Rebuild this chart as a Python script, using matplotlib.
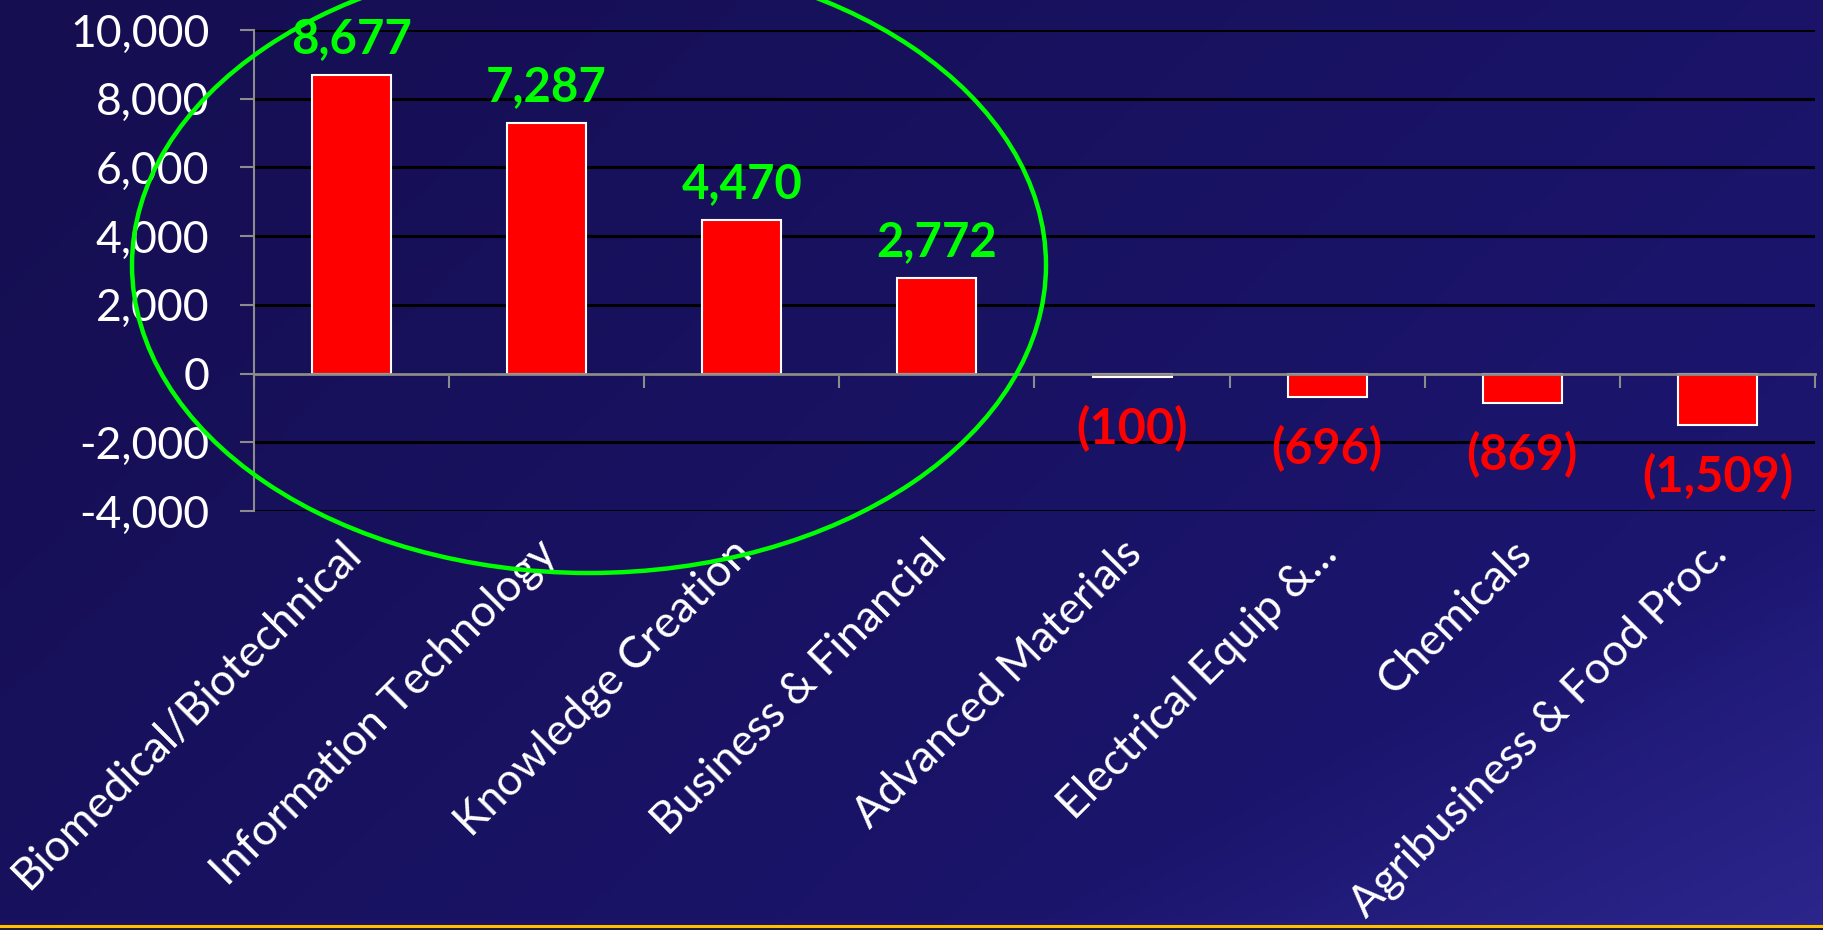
import numpy as np
import matplotlib
matplotlib.use("Agg")
import matplotlib.pyplot as plt
import matplotlib.transforms as mtransforms
from matplotlib.patches import Ellipse, Rectangle
from matplotlib.lines import Line2D
from matplotlib.ticker import FuncFormatter

categories = ["Biomedical/Biotechnical", "Information Technology", "Knowledge Creation",
              "Business & Financial", "Advanced Materials", "Electrical Equip &...",
              "Chemicals", "Agribusiness & Food Proc."]
values = [8677, 7287, 4470, 2772, -100, -696, -869, -1509]
y_ticks = [-4000, -2000, 0, 2000, 4000, 6000, 8000, 10000]

W, H = 1824, 930
plt.rcParams['font.family'] = ['Lato', 'DejaVu Sans']
fig = plt.figure(figsize=(W / 100, H / 100), dpi=100)

# background gradient
bg = fig.add_axes([0, 0, 1, 1], zorder=-10)
yy, xx = np.mgrid[0:1:200j, 0:1:400j]
t = np.clip(0.65 * xx + 0.35 * yy, 0, 1)
c0 = np.array([21, 14, 80]) / 255
c1 = np.array([29, 23, 118]) / 255
img = c0 + (c1 - c0) * t[..., None]
corner = np.clip((xx + yy - 1.55) / 0.45, 0, 1)[..., None]
img = img + (np.array([44, 38, 140]) / 255 - img) * corner
bg.imshow(img, aspect='auto', extent=[0, 1, 0, 1], origin='upper')
bg.set_axis_off()

ax = fig.add_axes([254 / W, 1 - 511 / H, (1815 - 254) / W, (511 - 30) / H])
ax.set_facecolor('none')
x = np.arange(len(categories))
ax.bar(x, values, width=0.405, color='#ff0000', edgecolor='white', linewidth=1.5, zorder=3)
ax.set_xlim(-0.5, len(categories) - 0.5)
ax.set_ylim(-4000, 10000)
ax.set_yticks(y_ticks)
ax.yaxis.set_major_formatter(FuncFormatter(lambda v, p: f"{v:,.0f}"))
ax.yaxis.grid(True, color='black', linewidth=2.2)
ax.set_axisbelow(True)
for s in ['top', 'right']:
    ax.spines[s].set_visible(False)
ax.spines['left'].set_color('#8c8c8c')
ax.spines['left'].set_linewidth(1.5)
ax.spines['bottom'].set_position(('data', 0))
ax.spines['bottom'].set_color('#8c8c8c')
ax.spines['bottom'].set_linewidth(2)
ax.spines['bottom'].set_zorder(4)
ax.set_xticks(np.arange(-0.5, len(categories), 1))
ax.set_xticklabels([])
ax.tick_params(axis='x', direction='out', length=10, width=1.5, color='#8c8c8c')
ax.tick_params(axis='y', direction='out', length=10, width=1.5, color='#8c8c8c',
               labelcolor='white', labelsize=32, pad=22)

for i, v in enumerate(values):
    if v >= 0:
        ax.annotate(f"{v:,}", (i, v), xytext=(0, 16), textcoords='offset points',
                    ha='center', va='baseline', color='#00ff00', fontsize=34,
                    fontweight='bold', zorder=6)
    else:
        ax.annotate(f"({abs(v):,})", (i, v), xytext=(0, -20), textcoords='offset points',
                    ha='center', va='top', color='#ff0000', fontsize=35,
                    fontweight='bold', zorder=6)

trans = mtransforms.blended_transform_factory(ax.transData, ax.transAxes)
for i, c in enumerate(categories):
    tr = mtransforms.offset_copy(trans, fig=fig, x=3, y=-36, units='dots')
    ax.text(i, 0, c, transform=tr, rotation=45, rotation_mode='anchor',
            ha='right', va='center', color='white', fontsize=32, clip_on=False)

fig.add_artist(Ellipse((589 / W, 1 - 265 / H), 914 / W, 616 / H, transform=fig.transFigure,
                       fill=False, edgecolor='#00ff00', linewidth=3.2, zorder=5))

fig.add_artist(Rectangle((0, 0), 1, 1 - 927 / H, transform=fig.transFigure,
                         color='#1c1a30', zorder=1))
fig.add_artist(Line2D([0, 1], [1 - 926 / H] * 2, transform=fig.transFigure,
                      color='#ffc000', linewidth=2.2, zorder=2))

fig.savefig("out.png", dpi=100)
